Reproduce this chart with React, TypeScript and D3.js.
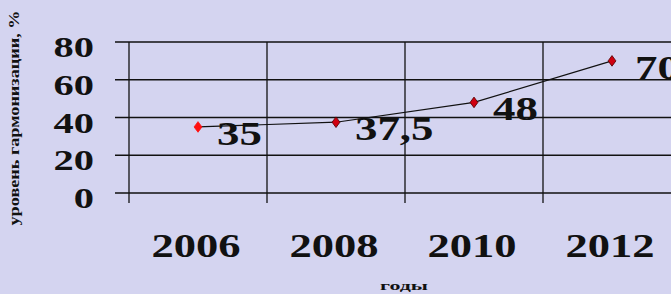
import { useEffect, useRef } from 'react';
import * as d3 from 'd3';

const years = ['2006', '2008', '2010', '2012'];
const levels = [35, 37.5, 48, 70];
const valueLabels = ['35', '37,5', '48', '70'];
const yTicks = [0, 20, 40, 60, 80];

const width = 671;
const height = 294;

export default function App() {
  const ref = useRef<SVGSVGElement>(null);

  useEffect(() => {
    const svgElement = ref.current;
    if (!svgElement) {
      return;
    }
    const svg = d3.select(svgElement);
    svg.selectAll('*').remove();

    const serif = '"Liberation Serif", "Times New Roman", serif';

    svg.append('rect').attr('width', width).attr('height', height).attr('fill', '#d4d4f0');

    const x = d3.scaleBand<string>().domain(years).range([129, 681]).padding(0);
    const y = d3.scaleLinear().domain([0, 80]).range([193, 42]);

    // horizontal grid
    svg
      .append('g')
      .selectAll('line')
      .data(yTicks)
      .join('line')
      .attr('x1', 115)
      .attr('x2', width)
      .attr('y1', (d) => y(d))
      .attr('y2', (d) => y(d))
      .attr('stroke', '#111')
      .attr('stroke-width', 1.3);

    // vertical grid at category edges
    svg
      .append('g')
      .selectAll('line')
      .data(years)
      .join('line')
      .attr('x1', (d) => x(d) ?? 0)
      .attr('x2', (d) => x(d) ?? 0)
      .attr('y1', y(80))
      .attr('y2', 203)
      .attr('stroke', '#111')
      .attr('stroke-width', 1.3);

    // y tick labels (stretched wide like the original)
    svg
      .append('g')
      .selectAll('text')
      .data(yTicks)
      .join('text')
      .attr('transform', (d) => `translate(94,${y(d) + 15}) scale(1.35,1)`)
      .attr('text-anchor', 'end')
      .attr('font-family', serif)
      .attr('font-weight', 'bold')
      .attr('font-size', 30)
      .attr('fill', '#111')
      .text((d) => d);

    // x labels
    svg
      .append('g')
      .selectAll('text')
      .data(years)
      .join('text')
      .attr('transform', (d) => `translate(${(x(d) ?? 0) + x.bandwidth() / 2 - 2},257) scale(1.35,1)`)
      .attr('text-anchor', 'middle')
      .attr('font-family', serif)
      .attr('font-weight', 'bold')
      .attr('font-size', 33)
      .attr('fill', '#111')
      .text((d) => d);

    const points = years.map((yr, i) => ({
      cx: (x(yr) ?? 0) + x.bandwidth() / 2,
      cy: y(levels[i]),
      label: valueLabels[i],
      i,
    }));

    const line = d3
      .line<(typeof points)[number]>()
      .x((p) => p.cx)
      .y((p) => p.cy);

    svg
      .append('path')
      .datum(points)
      .attr('d', line)
      .attr('fill', 'none')
      .attr('stroke', '#111')
      .attr('stroke-width', 1.2);

    svg
      .append('g')
      .selectAll('path')
      .data(points)
      .join('path')
      .attr('d', d3.symbol(d3.symbolDiamond, 40)())
      .attr('transform', (p) => `translate(${p.cx},${p.cy}) scale(1.15,0.9)`)
      .attr('fill', (p) => (p.i === 0 ? '#ff1010' : '#d00010'))
      .attr('stroke', (p) => (p.i === 0 ? '#ff1010' : '#500000'))
      .attr('stroke-width', 0.8);

    svg
      .append('g')
      .selectAll('text')
      .data(points)
      .join('text')
      .attr('transform', (p) => `translate(${p.cx + (p.i === 3 ? 23 : 19)},${p.cy + 18}) scale(1.36,1)`)
      .attr('font-family', serif)
      .attr('font-weight', 'bold')
      .attr('font-size', 33)
      .attr('fill', '#111')
      .text((p) => p.label);

    // axis titles
    svg
      .append('text')
      .attr('transform', 'translate(19,118) rotate(-90)')
      .attr('text-anchor', 'middle')
      .attr('font-family', serif)
      .attr('font-weight', 'bold')
      .attr('font-size', 15)
      .attr('textLength', 215)
      .attr('lengthAdjust', 'spacingAndGlyphs')
      .attr('fill', '#111')
      .text('уровень гармонизации, %');

    svg
      .append('text')
      .attr('x', 404)
      .attr('y', 290)
      .attr('text-anchor', 'middle')
      .attr('font-family', serif)
      .attr('font-weight', 'bold')
      .attr('font-size', 13)
      .attr('textLength', 48)
      .attr('lengthAdjust', 'spacingAndGlyphs')
      .attr('fill', '#111')
      .text('годы');
  }, []);

  return (
    <svg
      ref={ref}
      width={width}
      height={height}
      style={{ position: 'absolute', left: 0, top: 0, display: 'block' }}
    />
  );
}
